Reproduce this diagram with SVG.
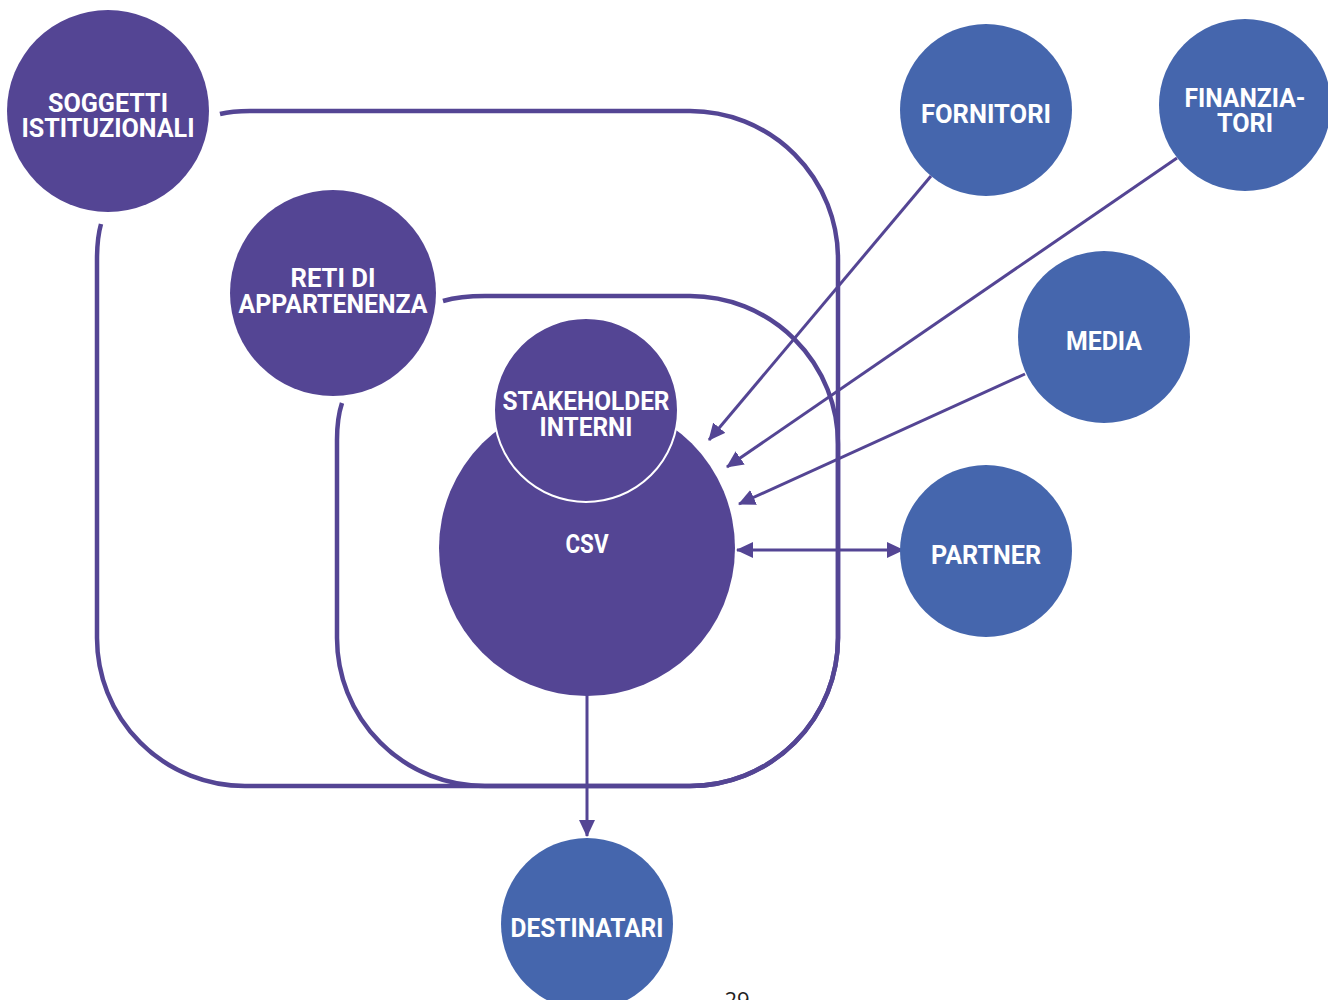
<svg xmlns="http://www.w3.org/2000/svg" width="1328" height="1000" viewBox="0 0 1328 1000">
<defs>
<marker id="ah" markerWidth="18" markerHeight="16" refX="16" refY="8" orient="auto-start-reverse" markerUnits="userSpaceOnUse">
<path d="M0,0 L17,8 L0,16 Z" fill="#544594"/>
</marker>
<style>
.p{fill:#544594}
.b{fill:#4566ad}
.frame{fill:none;stroke:#544594;stroke-width:4.5}
.c{stroke:#544594;stroke-width:3;fill:none}
.t{font-family:Roboto,"Liberation Sans",sans-serif;font-weight:bold;font-size:25px;fill:#ffffff;text-anchor:middle}
</style>
</defs>
<rect width="1328" height="1000" fill="#ffffff"/>
<g id="frames">
<path class="frame" d="M220,114 Q232,111 250,111 L690,111 A148,148 0 0 1 838,259 L838,638 A148,148 0 0 1 690,786 L245,786 A148,148 0 0 1 97,638 L97,260 Q97,238 101,224"/>
<path class="frame" d="M443,301 Q460,296 485,296 L690,296 A148,148 0 0 1 838,444 L838,638 A148,148 0 0 1 690,786 L485,786 A148,148 0 0 1 337,638 L337,440 Q337,418 342,403"/>
</g>
<g id="connectors">
<line class="c" x1="931" y1="176" x2="709" y2="440" marker-end="url(#ah)"/>
<line class="c" x1="1177" y1="158" x2="727" y2="467" marker-end="url(#ah)"/>
<line class="c" x1="1025" y1="374" x2="739" y2="504" marker-end="url(#ah)"/>
<line class="c" x1="737" y1="550" x2="903" y2="550" marker-start="url(#ah)" marker-end="url(#ah)"/>
<line class="c" x1="587" y1="694" x2="587" y2="836" marker-end="url(#ah)"/>
</g>
<g id="soggetti">
<circle class="p" cx="108" cy="111" r="101"/>
<text class="t" x="108" y="112" textLength="120" lengthAdjust="spacingAndGlyphs">SOGGETTI</text>
<text class="t" x="108" y="137" textLength="173" lengthAdjust="spacingAndGlyphs">ISTITUZIONALI</text>
</g>
<g id="reti">
<circle class="p" cx="333" cy="293" r="103"/>
<text class="t" x="333" y="287" textLength="85" lengthAdjust="spacingAndGlyphs">RETI DI</text>
<text class="t" x="333" y="313" textLength="189" lengthAdjust="spacingAndGlyphs">APPARTENENZA</text>
</g>
<g id="csv">
<circle class="p" cx="587" cy="548" r="148"/>
<text class="t" x="587" y="553" textLength="43" lengthAdjust="spacingAndGlyphs">CSV</text>
</g>
<g id="stakeholder">
<circle class="p" cx="586" cy="410" r="92" stroke="#ffffff" stroke-width="2"/>
<text class="t" x="586" y="410" textLength="167" lengthAdjust="spacingAndGlyphs">STAKEHOLDER</text>
<text class="t" x="586" y="436" textLength="93" lengthAdjust="spacingAndGlyphs">INTERNI</text>
</g>
<g id="fornitori">
<circle class="b" cx="986" cy="110" r="86"/>
<text class="t" x="986" y="123" textLength="130" lengthAdjust="spacingAndGlyphs">FORNITORI</text>
</g>
<g id="finanziatori">
<circle class="b" cx="1245" cy="105" r="86"/>
<text class="t" x="1245" y="107" textLength="121" lengthAdjust="spacingAndGlyphs">FINANZIA-</text>
<text class="t" x="1245" y="132" textLength="56" lengthAdjust="spacingAndGlyphs">TORI</text>
</g>
<g id="media">
<circle class="b" cx="1104" cy="337" r="86"/>
<text class="t" x="1104" y="350" textLength="76" lengthAdjust="spacingAndGlyphs">MEDIA</text>
</g>
<g id="partner">
<circle class="b" cx="986" cy="551" r="86"/>
<text class="t" x="986" y="564" textLength="110" lengthAdjust="spacingAndGlyphs">PARTNER</text>
</g>
<g id="destinatari">
<circle class="b" cx="587" cy="924" r="86"/>
<text class="t" x="587" y="937" textLength="153" lengthAdjust="spacingAndGlyphs">DESTINATARI</text>
</g>
<text x="737" y="1008" font-family="'Open Sans',sans-serif" font-size="22" fill="#222222" text-anchor="middle">29</text>
</svg>
